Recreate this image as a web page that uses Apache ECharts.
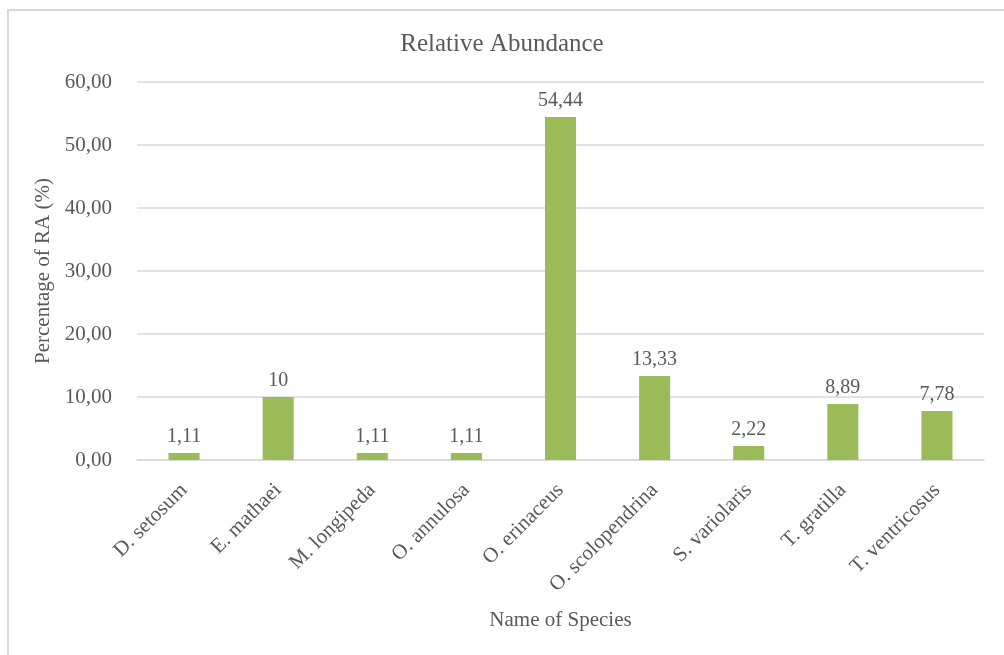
<!DOCTYPE html>
<html>
<head>
<meta charset="utf-8">
<script src="https://cdn.jsdelivr.net/npm/echarts@6/dist/echarts.min.js"></script>
<style>
	html, body { margin: 0; padding: 0; background: #fff; }
	#frame { position: absolute; left: 7px; top: 9px; width: 997px; height: 646px; border-top: 2px solid #d9d9d9; border-left: 2px solid #d9d9d9; box-sizing: border-box; }
	#chart { position: absolute; left: 0; top: 0; width: 1004px; height: 655px; }
</style>
</head>
<body>
<div id="frame"></div>
<div id="chart"></div>
<script>
	"use strict";

	// ______________ DATA
	var species = ['D. setosum', 'E. mathaei', 'M. longipeda', 'O. annulosa', 'O. erinaceus', 'O. scolopendrina', 'S. variolaris', 'T. gratilla', 'T. ventricosus'];
	var abundance = [1.11, 10, 1.11, 1.11, 54.44, 13.33, 2.22, 8.89, 7.78];
	var yTicks = [0, 10, 20, 30, 40, 50, 60];

	var textColor = '#595959';
	var fontFamily = '"Liberation Serif", "DejaVu Serif", serif';

	function comma(v) {
		return String(v).replace('.', ',');
	}

	var chart = echarts.init(document.getElementById('chart'));
	chart.setOption({
		animation: false,
		textStyle: { fontFamily: fontFamily, color: textColor },
		title: {
			text: 'Relative Abundance',
			left: 'center',
			top: 27,
			textStyle: { fontFamily: fontFamily, fontSize: 25, fontWeight: 'normal', color: textColor }
		},
		grid: { left: 137, right: 20, top: 82, bottom: 195 },
		xAxis: {
			type: 'category',
			data: species,
			name: 'Name of Species',
			nameLocation: 'middle',
			nameGap: 150,
			nameTextStyle: { fontSize: 21, color: textColor, fontFamily: fontFamily },
			axisTick: { show: false },
			axisLine: { lineStyle: { color: '#d9d9d9', width: 1.5 } },
			axisLabel: { rotate: 45, fontSize: 21, color: textColor, margin: 27, interval: 0 }
		},
		yAxis: {
			type: 'value',
			min: yTicks[0],
			max: yTicks[yTicks.length - 1],
			interval: 10,
			name: 'Percentage of RA (%)',
			nameLocation: 'middle',
			nameGap: 79,
			nameTextStyle: { fontSize: 21, color: textColor, fontFamily: fontFamily },
			axisLine: { show: false },
			axisTick: { show: false },
			splitLine: { lineStyle: { color: '#d9d9d9', width: 1.5 } },
			axisLabel: {
				fontSize: 21,
				color: textColor,
				margin: 25,
				formatter: function(v) { return v.toFixed(2).replace('.', ','); }
			}
		},
		series: [{
			type: 'bar',
			data: abundance,
			barWidth: '33%',
			itemStyle: { color: '#9bbb59' },
			label: {
				show: true,
				position: 'top',
				distance: 6,
				fontSize: 20,
				color: textColor,
				formatter: function(p) { return comma(p.value); }
			}
		}]
	});
</script>
</body>
</html>
